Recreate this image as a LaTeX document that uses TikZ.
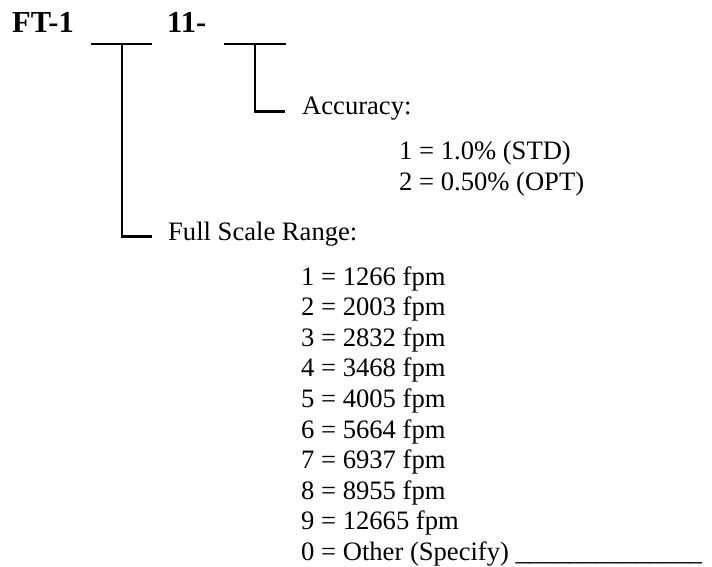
\documentclass[tikz,border=0pt]{standalone}
\usepackage{fontspec}
\setmainfont{Liberation Serif}
\usepackage{tikz}
\usetikzlibrary{positioning}
\tikzset{
  partno/.style={anchor=base west,inner sep=0pt,font=\fontsize{30.5}{34}\selectfont\bfseries},
  heading/.style={anchor=base west,inner sep=0pt,text height=0.7em,text depth=0pt,
              font=\fontsize{26.6}{30.6}\selectfont},
  item/.style={anchor=base west,inner sep=0pt,font=\fontsize{26.6}{30.6}\selectfont},
  blank/.style={line width=2.2pt},
  lead/.style={line width=2.2pt}
}
\begin{document}
\begin{tikzpicture}[x=1pt,y=-1pt]
  \useasboundingbox (0,0) rectangle (712,567);
  \node[partno] (model) at (12,33) {FT-1};
  \node[partno] (series) at (167,33) {11-};

  % blanks to fill in
  \draw[blank] (91,44) -- (152,44);
  \draw[blank] (224,44) -- (286,44);
  \coordinate (rangeblank) at (122,44);
  \coordinate (accblank) at (255,44);

  \node[heading] (acc) at (302,115) {Accuracy:};
  \node[heading] (range) at (168,240) {Full Scale Range:};

  \draw[lead] (accblank) |- ([xshift=-17pt]acc.west);
  \draw[lead] (rangeblank) |- ([xshift=-16pt]range.west);

  \node[item] (acc1) at (399,160) {1 = 1.0\% (STD)};
  \node[item] (acc2) at (399,190.6) {2 = 0.50\% (OPT)};

  \foreach \val [count=\k] in {1 = 1266 fpm,2 = 2003 fpm,3 = 2832 fpm,4 = 3468 fpm,
      5 = 4005 fpm,6 = 5664 fpm,7 = 6937 fpm,8 = 8955 fpm,9 = 12665 fpm,
      0 = Other (Specify) \_\_\_\_\_\_\_\_\_\_\_\_\_\_}
    \node[item] (r\k) at (301,{285+30.6*(\k-1)}) {\val};
\end{tikzpicture}
\end{document}
